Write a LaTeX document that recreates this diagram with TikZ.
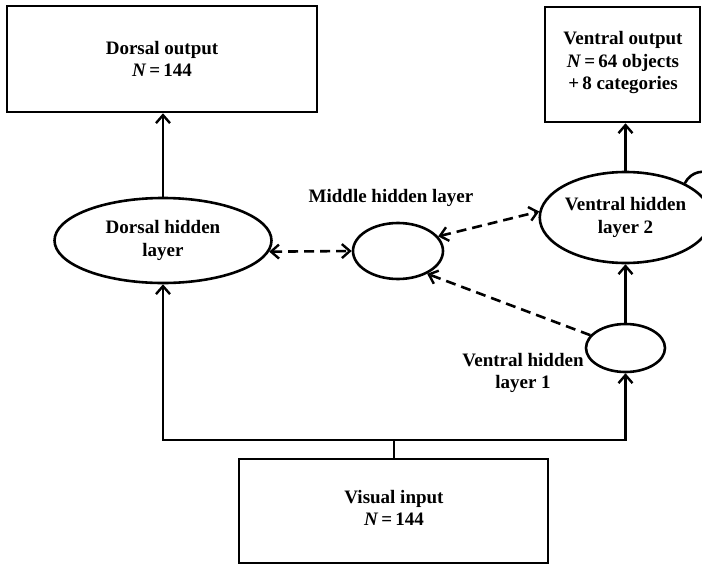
\documentclass[tikz,border=0pt]{standalone}
\usepackage{fontspec}
\setmainfont{Liberation Serif}
\usetikzlibrary{shapes.geometric,arrows.meta}
\tikzset{
  x=1pt, y=-1pt,
  lbl/.style={font=\fontsize{19}{22.5}\selectfont\bfseries, align=center, inner sep=0pt},
  boxnode/.style={draw, line width=2.6pt, inner sep=0pt, rectangle},
  ell/.style={draw, line width=2.6pt, ellipse, inner sep=0pt, lbl},
  tip/.style={},
  conn/.style={line width=2.6pt, -{Straight Barb[length=8pt,width=14pt,line width=2.4pt]}},
  dconn/.style={line width=2.6pt, dash pattern=on 10pt off 6pt, -{Straight Barb[length=8pt,width=14pt,line width=2.4pt]}},
  ddconn/.style={line width=2.6pt, dash pattern=on 10pt off 6pt, {Straight Barb[length=8pt,width=14pt,line width=2.4pt]}-{Straight Barb[length=8pt,width=14pt,line width=2.4pt]}},
}
\begin{document}
\begin{tikzpicture}
\useasboundingbox (0,0) rectangle (702,565);
% boxes
\node[boxnode, minimum width=310, minimum height=106] (dout) at (162,59) {};
\node[lbl] at (162,59) {Dorsal output\\\textit{N}\,=\,144};
\node[boxnode, minimum width=155, minimum height=115] (vout) at (622.5,64.5) {};
\node[lbl] at (623,63) {Ventral output\\\textit{N}\,=\,64 objects\\+\,8 categories};
\node[boxnode, minimum width=309, minimum height=104] (vin) at (393.5,511) {};
\node[lbl] at (394,508) {Visual input\\\textit{N}\,=\,144};
% ellipses
\node[ell, minimum width=217, minimum height=85] (dh) at (163,240.5) {Dorsal hidden\\layer};
\node[ell, minimum width=90, minimum height=56] (mid) at (398,251) {};
\node[lbl] (midlbl) at (391,198) {Middle hidden layer};
\node[ell, minimum width=149, minimum height=91] (vh2) at (625.5,217.5) {Ventral hidden\\layer 2};
\node[ell, minimum width=79, minimum height=48] (vh1) at (625.5,348) {};
\node[lbl] (vh1lbl) at (523,373) {Ventral hidden\\layer 1};
% solid connectors
\coordinate (split) at (394,440);
\draw[conn] (dh.north) -- (dout.south -| dh.north);
\draw[conn] (vh2.north) -- (vout.south -| vh2.north);
\draw[conn] (vh1.north) -- (vh2.south);
\draw[line width=2.6pt] (vin.north -| split) -- (split);
\draw[conn] (split) -| (dh.south);
\draw[conn] (split) -| (vh1.south);
% dashed connectors
\draw[ddconn] (dh.-6) -- (mid.west);
\draw[ddconn] (mid.20) -- (vh2.176);
\draw[dconn] (vh1.160) -- (mid.-38);
% self loop
\draw[conn] (vh2.30) .. controls (698,158) and (738,180) .. (vh2.15);
\end{tikzpicture}
\end{document}
